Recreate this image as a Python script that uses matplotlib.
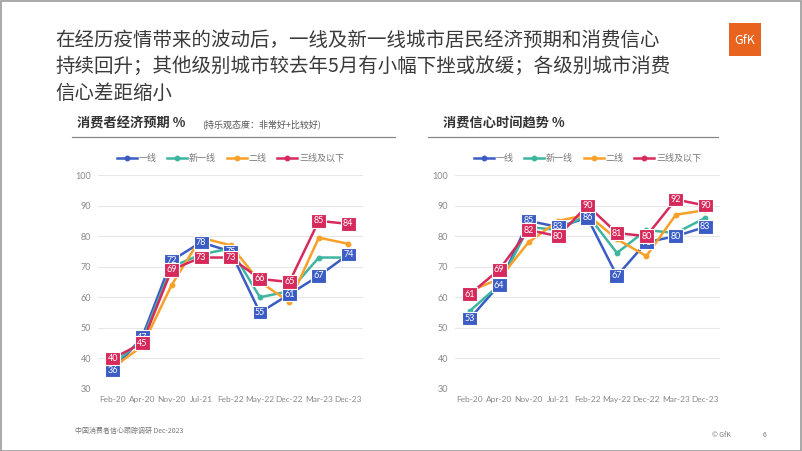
import matplotlib
matplotlib.use('Agg')
from matplotlib import pyplot as plt
from matplotlib.patches import Rectangle
import numpy as np

plt.rcParams['font.family'] = ['Noto Sans CJK SC', 'DejaVu Sans']

# datos
periods = ['Feb-20', 'Apr-20', 'Nov-20', 'Jul-21', 'Feb-22', 'May-22', 'Dec-22', 'Mar-23', 'Dec-23']
series_names = ['一线', '新一线', '二线', '三线及以下']

econ_t1 = [36, 47, 72, 78, 75, 55, 61, 67, 74]
econ_new1 = [38, 46, 70, 74, 76, 60, 62, 73, 73]
econ_t2 = [37, 44, 64, 79.5, 77, 65, 58.5, 79.5, 77.5]
econ_t3 = [40, 45, 69, 73, 73, 66, 65, 85, 84]

conf_t1 = [53, 64, 85, 83, 86, 67, 78, 80, 83]
conf_new1 = [55.5, 64, 83, 82, 87, 74.5, 82, 81, 86]
conf_t2 = [62, 66, 78, 85, 87, 79, 73.5, 87, 88.5]
conf_t3 = [61, 69, 82, 80, 90, 81, 80, 92, 90]

colors = ['#3B5CC4', '#3DB5A0', '#F7A12A', '#D72A5C']

W, H = 802, 451
fig = plt.figure(figsize=(W / 100, H / 100), dpi=100)
fig.patch.set_facecolor('white')


def px(x0, y0, w, h):
    """Convierte una caja en pixeles (origen arriba-izquierda) a fracciones de figura"""
    return [x0 / W, 1 - (y0 + h) / H, w / W, h / H]


def draw_chart(ax, data):
    x = np.arange(len(periods))
    for vals, c, name in zip(data, colors, series_names):
        ax.plot(x, vals, color=c, lw=1.8, marker='o', ms=3.2, label=name, zorder=3)
    # etiquetas solo para 一线 y 三线及以下
    for vals, c in [(data[0], colors[0]), (data[3], colors[3])]:
        for xi, v in zip(x, vals):
            ax.text(xi, v, '%d' % round(v), color='white', fontsize=6.5, ha='center', va='center',
                    zorder=5, family=['Lato', 'DejaVu Sans'],
                    bbox=dict(boxstyle='square,pad=0.25', fc=c, ec='white', lw=0.8))
    ax.set_xlim(-0.5, 8.5)
    ax.set_ylim(30, 100)
    ax.set_yticks(range(30, 101, 10))
    ax.set_xticks(x)
    ax.set_xticklabels(periods)
    ax.tick_params(length=0, labelcolor='#888888', pad=5)
    ax.tick_params(axis='x', labelsize=6)
    ax.tick_params(axis='y', labelsize=6.5)
    for lab in ax.get_xticklabels() + ax.get_yticklabels():
        lab.set_family(['Lato', 'DejaVu Sans'])
    ax.grid(axis='y', color='#E6E6E6', lw=0.8, zorder=0)
    for s in ax.spines.values():
        s.set_visible(False)
    ax.legend(loc='center', bbox_to_anchor=(0.5, 1.075), ncol=4, frameon=False, fontsize=6.5,
              handlelength=2.2, columnspacing=1.2, handletextpad=0.2, labelcolor='#777777')


ax1 = fig.add_axes(px(98, 175, 265, 214))
draw_chart(ax1, [econ_t1, econ_new1, econ_t2, econ_t3])

ax2 = fig.add_axes(px(455, 175, 265, 214))
draw_chart(ax2, [conf_t1, conf_new1, conf_t2, conf_t3])

# titulo principal
title_lines = ['在经历疫情带来的波动后，一线及新一线城市居民经济预期和消费信心',
               '持续回升；其他级别城市较去年5月有小幅下挫或放缓；各级别城市消费',
               '信心差距缩小']
for i, t in enumerate(title_lines):
    fig.text(55 / W, 1 - (40 + i * 26.5) / H, t, fontsize=14, color='#3A3A3A', va='center')

# subtitulos con linea
fig.text(77 / W, 1 - 124 / H, '消费者经济预期 %', fontsize=9.5, fontweight='bold', color='#333333', va='center')
fig.text(202 / W, 1 - 124 / H, '(持乐观态度：非常好+比较好)', fontsize=6.5, color='#555555', va='center')
fig.text(443 / W, 1 - 124 / H, '消费信心时间趋势 %', fontsize=9.5, fontweight='bold', color='#333333', va='center')
fig.add_artist(plt.Line2D([72 / W, 395 / W], [1 - 137 / H, 1 - 137 / H], color='#888888', lw=0.9))
fig.add_artist(plt.Line2D([428 / W, 718 / W], [1 - 137 / H, 1 - 137 / H], color='#888888', lw=0.9))

# logo GfK
fig.add_artist(Rectangle((729 / W, 1 - 56 / H), 32 / W, 33 / H, transform=fig.transFigure,
                         fc='#E8641E', ec='none'))
fig.text(745 / W, 1 - 40 / H, 'GfK', color='white', fontsize=9, ha='center', va='center')

# pie de pagina
fig.text(75 / W, 1 - 431 / H, '中国消费者信心跟踪调研 Dec-2023', fontsize=5, color='#777777', va='center')
fig.text(712 / W, 1 - 435 / H, '© GfK', fontsize=5, color='#777777', va='center')
fig.text(763 / W, 1 - 435 / H, '6', fontsize=5, color='#777777', va='center')

# marco gris
fig.add_artist(Rectangle((0.0008, 0.001), 0.998, 0.997, transform=fig.transFigure,
                         fc='none', ec='#9A9A9A', lw=1.2))

plt.savefig('out.png', dpi=100)
